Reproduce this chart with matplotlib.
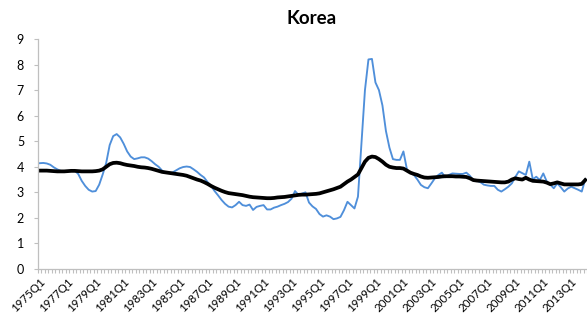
import matplotlib
matplotlib.use("Agg")
import matplotlib.pyplot as plt
import numpy as np

title = "Korea"
start_year = 1975
n_quarters = 157
tick_labels = [f"{y}Q1" for y in range(1975, 2014, 2)]

blue_values = [
    4.14, 4.15, 4.13, 4.08, 3.98, 3.90, 3.84, 3.82, 3.83, 3.85,   # 0-9
    3.85, 3.72, 3.45, 3.25, 3.10, 3.03, 3.05, 3.30, 3.70, 4.15,   # 10-19
    4.85, 5.20, 5.28, 5.15, 4.90, 4.60, 4.40, 4.30, 4.33, 4.37,   # 20-29
    4.37, 4.32, 4.22, 4.10, 4.00, 3.85, 3.77, 3.76, 3.78, 3.86,   # 30-39
    3.94, 3.99, 4.01, 3.99, 3.90, 3.80, 3.68, 3.58, 3.40, 3.25,   # 40-49
    3.05, 2.88, 2.70, 2.55, 2.44, 2.41, 2.50, 2.63, 2.50, 2.47,   # 50-59
    2.52, 2.31, 2.43, 2.47, 2.50, 2.33, 2.33, 2.40, 2.44, 2.50,   # 60-69
    2.55, 2.62, 2.75, 3.05, 2.90, 2.95, 3.00, 2.60, 2.45, 2.35,   # 70-79
    2.15, 2.05, 2.10, 2.05, 1.95, 1.98, 2.04, 2.30, 2.63, 2.50,   # 80-89
    2.37, 2.83, 4.90, 7.00, 8.20, 8.22, 7.30, 7.00, 6.40, 5.40,   # 90-99
    4.75, 4.30, 4.27, 4.27, 4.60, 3.90, 3.75, 3.68, 3.50, 3.29,   # 100-109
    3.20, 3.16, 3.35, 3.55, 3.68, 3.77, 3.59, 3.68, 3.74, 3.73,   # 110-119
    3.72, 3.72, 3.77, 3.65, 3.48, 3.45, 3.40, 3.30, 3.27, 3.25,   # 120-129
    3.25, 3.10, 3.03, 3.12, 3.22, 3.35, 3.60, 3.82, 3.75, 3.68,   # 130-139
    4.20, 3.51, 3.61, 3.48, 3.74, 3.42, 3.30, 3.16, 3.35, 3.20,   # 140-149
    3.03, 3.15, 3.22, 3.16, 3.10, 3.03, 3.51,                     # 150-156
]

black_values = [
    3.85, 3.85, 3.85, 3.84, 3.83, 3.82, 3.82, 3.82, 3.83, 3.84,   # 0-9
    3.84, 3.83, 3.82, 3.82, 3.82, 3.82, 3.83, 3.85, 3.90, 4.00,   # 10-19
    4.10, 4.15, 4.16, 4.14, 4.10, 4.07, 4.05, 4.03, 4.00, 3.98,   # 20-29
    3.97, 3.95, 3.92, 3.88, 3.84, 3.80, 3.78, 3.76, 3.74, 3.72,   # 30-39
    3.70, 3.68, 3.65, 3.60, 3.55, 3.50, 3.46, 3.40, 3.33, 3.25,   # 40-49
    3.18, 3.12, 3.06, 3.01, 2.97, 2.95, 2.93, 2.91, 2.89, 2.86,   # 50-59
    2.83, 2.81, 2.80, 2.79, 2.78, 2.77, 2.77, 2.78, 2.80, 2.81,   # 60-69
    2.82, 2.84, 2.86, 2.88, 2.90, 2.91, 2.91, 2.92, 2.93, 2.94,   # 70-79
    2.96, 3.00, 3.04, 3.08, 3.12, 3.17, 3.22, 3.32, 3.42, 3.50,   # 80-89
    3.60, 3.70, 3.95, 4.20, 4.35, 4.40, 4.38, 4.30, 4.20, 4.08,   # 90-99
    4.00, 3.97, 3.95, 3.95, 3.93, 3.85, 3.77, 3.72, 3.68, 3.62,   # 100-109
    3.58, 3.57, 3.58, 3.59, 3.60, 3.62, 3.63, 3.63, 3.63, 3.62,   # 110-119
    3.62, 3.61, 3.60, 3.55, 3.48, 3.46, 3.45, 3.44, 3.43, 3.42,   # 120-129
    3.41, 3.40, 3.39, 3.39, 3.42, 3.50, 3.55, 3.52, 3.50, 3.57,   # 130-139
    3.50, 3.45, 3.44, 3.43, 3.42, 3.38, 3.32, 3.35, 3.39, 3.35,   # 140-149
    3.31, 3.31, 3.31, 3.31, 3.31, 3.33, 3.48,                     # 150-156
]

assert len(blue_values) == n_quarters and len(black_values) == n_quarters

plt.rcParams['font.family'] = ['Lato', 'DejaVu Sans']

fig = plt.figure(figsize=(5.87, 3.16), dpi=100)
ax = fig.add_axes([38/587, 47/316, 549/587, 230/316])

x = np.arange(n_quarters)
ax.plot(x, blue_values, color='#4F8FDA', lw=1.35, solid_joinstyle='round')
ax.plot(x, black_values, color='black', lw=2.7, solid_joinstyle='round')

ax.set_xlim(-0.5, n_quarters - 0.5)
ax.set_ylim(0, 9)
ax.set_yticks(range(0, 10))

ax.set_xticks(np.arange(0, n_quarters - 4, 8))
ax.set_xticklabels(tick_labels, rotation=45, ha='right', va='top',
                   rotation_mode='anchor', fontsize=8.3)
ax.set_xticks(np.arange(-0.5, n_quarters, 1), minor=True)
ax.tick_params(axis='x', which='major', length=0, pad=5)
ax.tick_params(axis='x', which='minor', length=3, color='#BFBFBF', width=0.8)
ax.tick_params(axis='y', length=3, color='#BFBFBF', labelsize=9, pad=7)

for s in ['top', 'right']:
    ax.spines[s].set_visible(False)
for s in ['left', 'bottom']:
    ax.spines[s].set_color('#BFBFBF')
    ax.spines[s].set_linewidth(0.9)

fig.text(312/587, 1 - 19/316, title, ha='center', va='center', fontsize=13.5, fontweight='bold')

fig.savefig('out.png', dpi=100)
